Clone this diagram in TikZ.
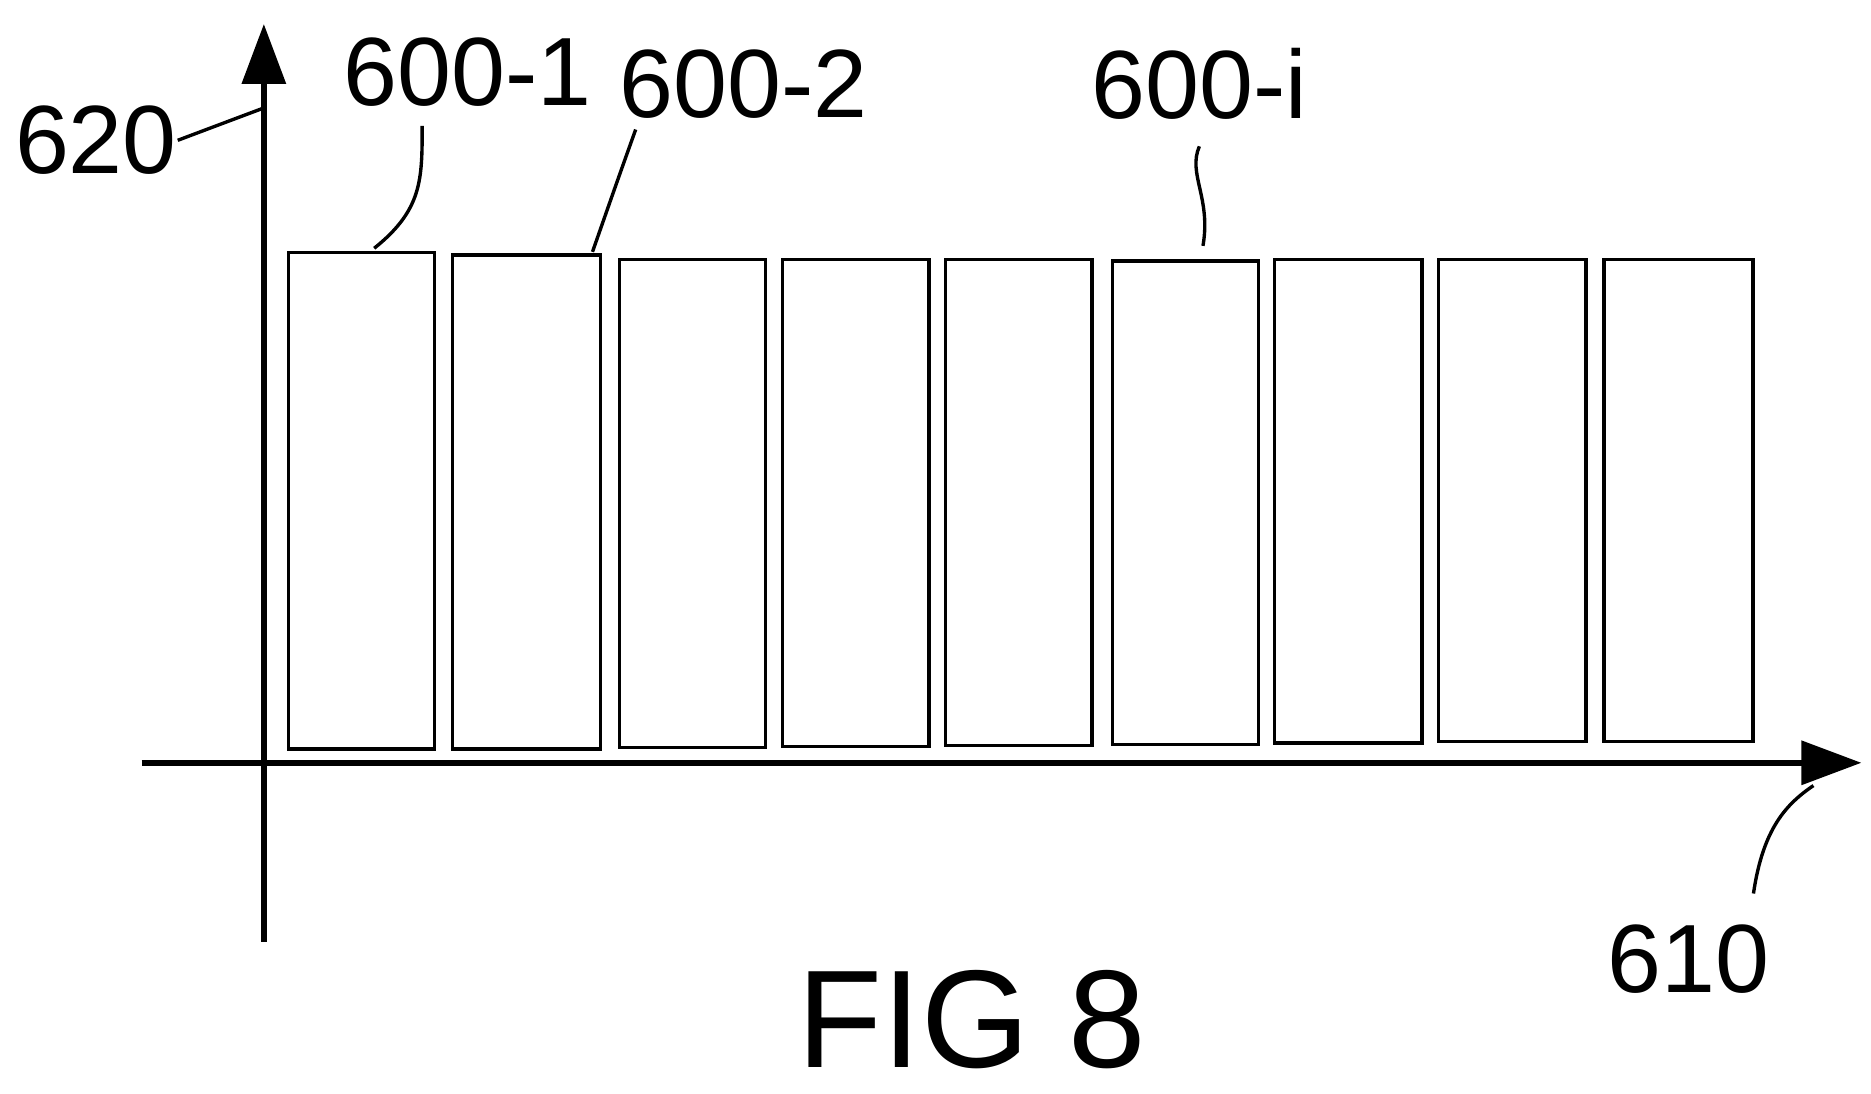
\documentclass[tikz,border=0pt]{standalone}
\usepackage{fontspec}
\setmainfont{Liberation Sans}
\usetikzlibrary{arrows.meta}
\begin{document}
\begin{tikzpicture}[x=0.01cm,y=-0.01cm,
  axis/.style={line width=1.4pt,-{Triangle[length=0.5cm,width=0.36cm]}},
  bar/.style={draw,line width=0.8pt},
  lead/.style={line width=0.8pt},
  lab/.style={font=\fontsize{23}{27}\selectfont,inner sep=0pt}]
\useasboundingbox (0,0) rectangle (1560,912);
\coordinate (yb) at (220,785); \coordinate (yt) at (220,20);
\coordinate (xl) at (118,636); \coordinate (xr) at (1552,636);
\draw[axis] (yb) -- (yt);
\draw[axis] (xl) -- (xr);
\foreach \n/\a/\b/\t/\u in {1/239/364/209/626,2/376/502/211/626,3/515/640/215/625,4/651/776/215/624,5/787/912/215/623,6/926/1051/216/622,7/1061/1187/215/621,8/1198/1324/215/620,9/1336/1463/215/620}
  \node[bar,inner sep=0pt,minimum width={(\b-\a-3)*0.01cm},minimum height={(\u-\t-3)*0.01cm}] (b\n) at ({(\a+\b)/2},{(\t+\u)/2}) {};
\node[lab] (l620) at (80,117) {620};
\node[lab] (l1) at (390,60) {600-1};
\node[lab] (l2) at (620,70) {600-2};
\node[lab] (li) at (1000,70) {600-i};
\node[lab] (l610) at (1408,800) {610};
\node[inner sep=0pt,font=\fontsize{33}{40}\selectfont] (fig) at (810,850) {FIG 8};
\draw[lead] (l620.east) .. controls (180,105) .. (220,90);
\draw[lead] (352,105) .. controls (352,150) and (352,175) .. (312,207);
\draw[lead] (530,108) .. controls (515,150) .. (494,210);
\draw[lead] (1000,122) .. controls (990,145) and (1010,165) .. (1003,205);
\draw[lead] (1462,745) .. controls (1470,690) and (1490,670) .. (1512,655);
\end{tikzpicture}
\end{document}
